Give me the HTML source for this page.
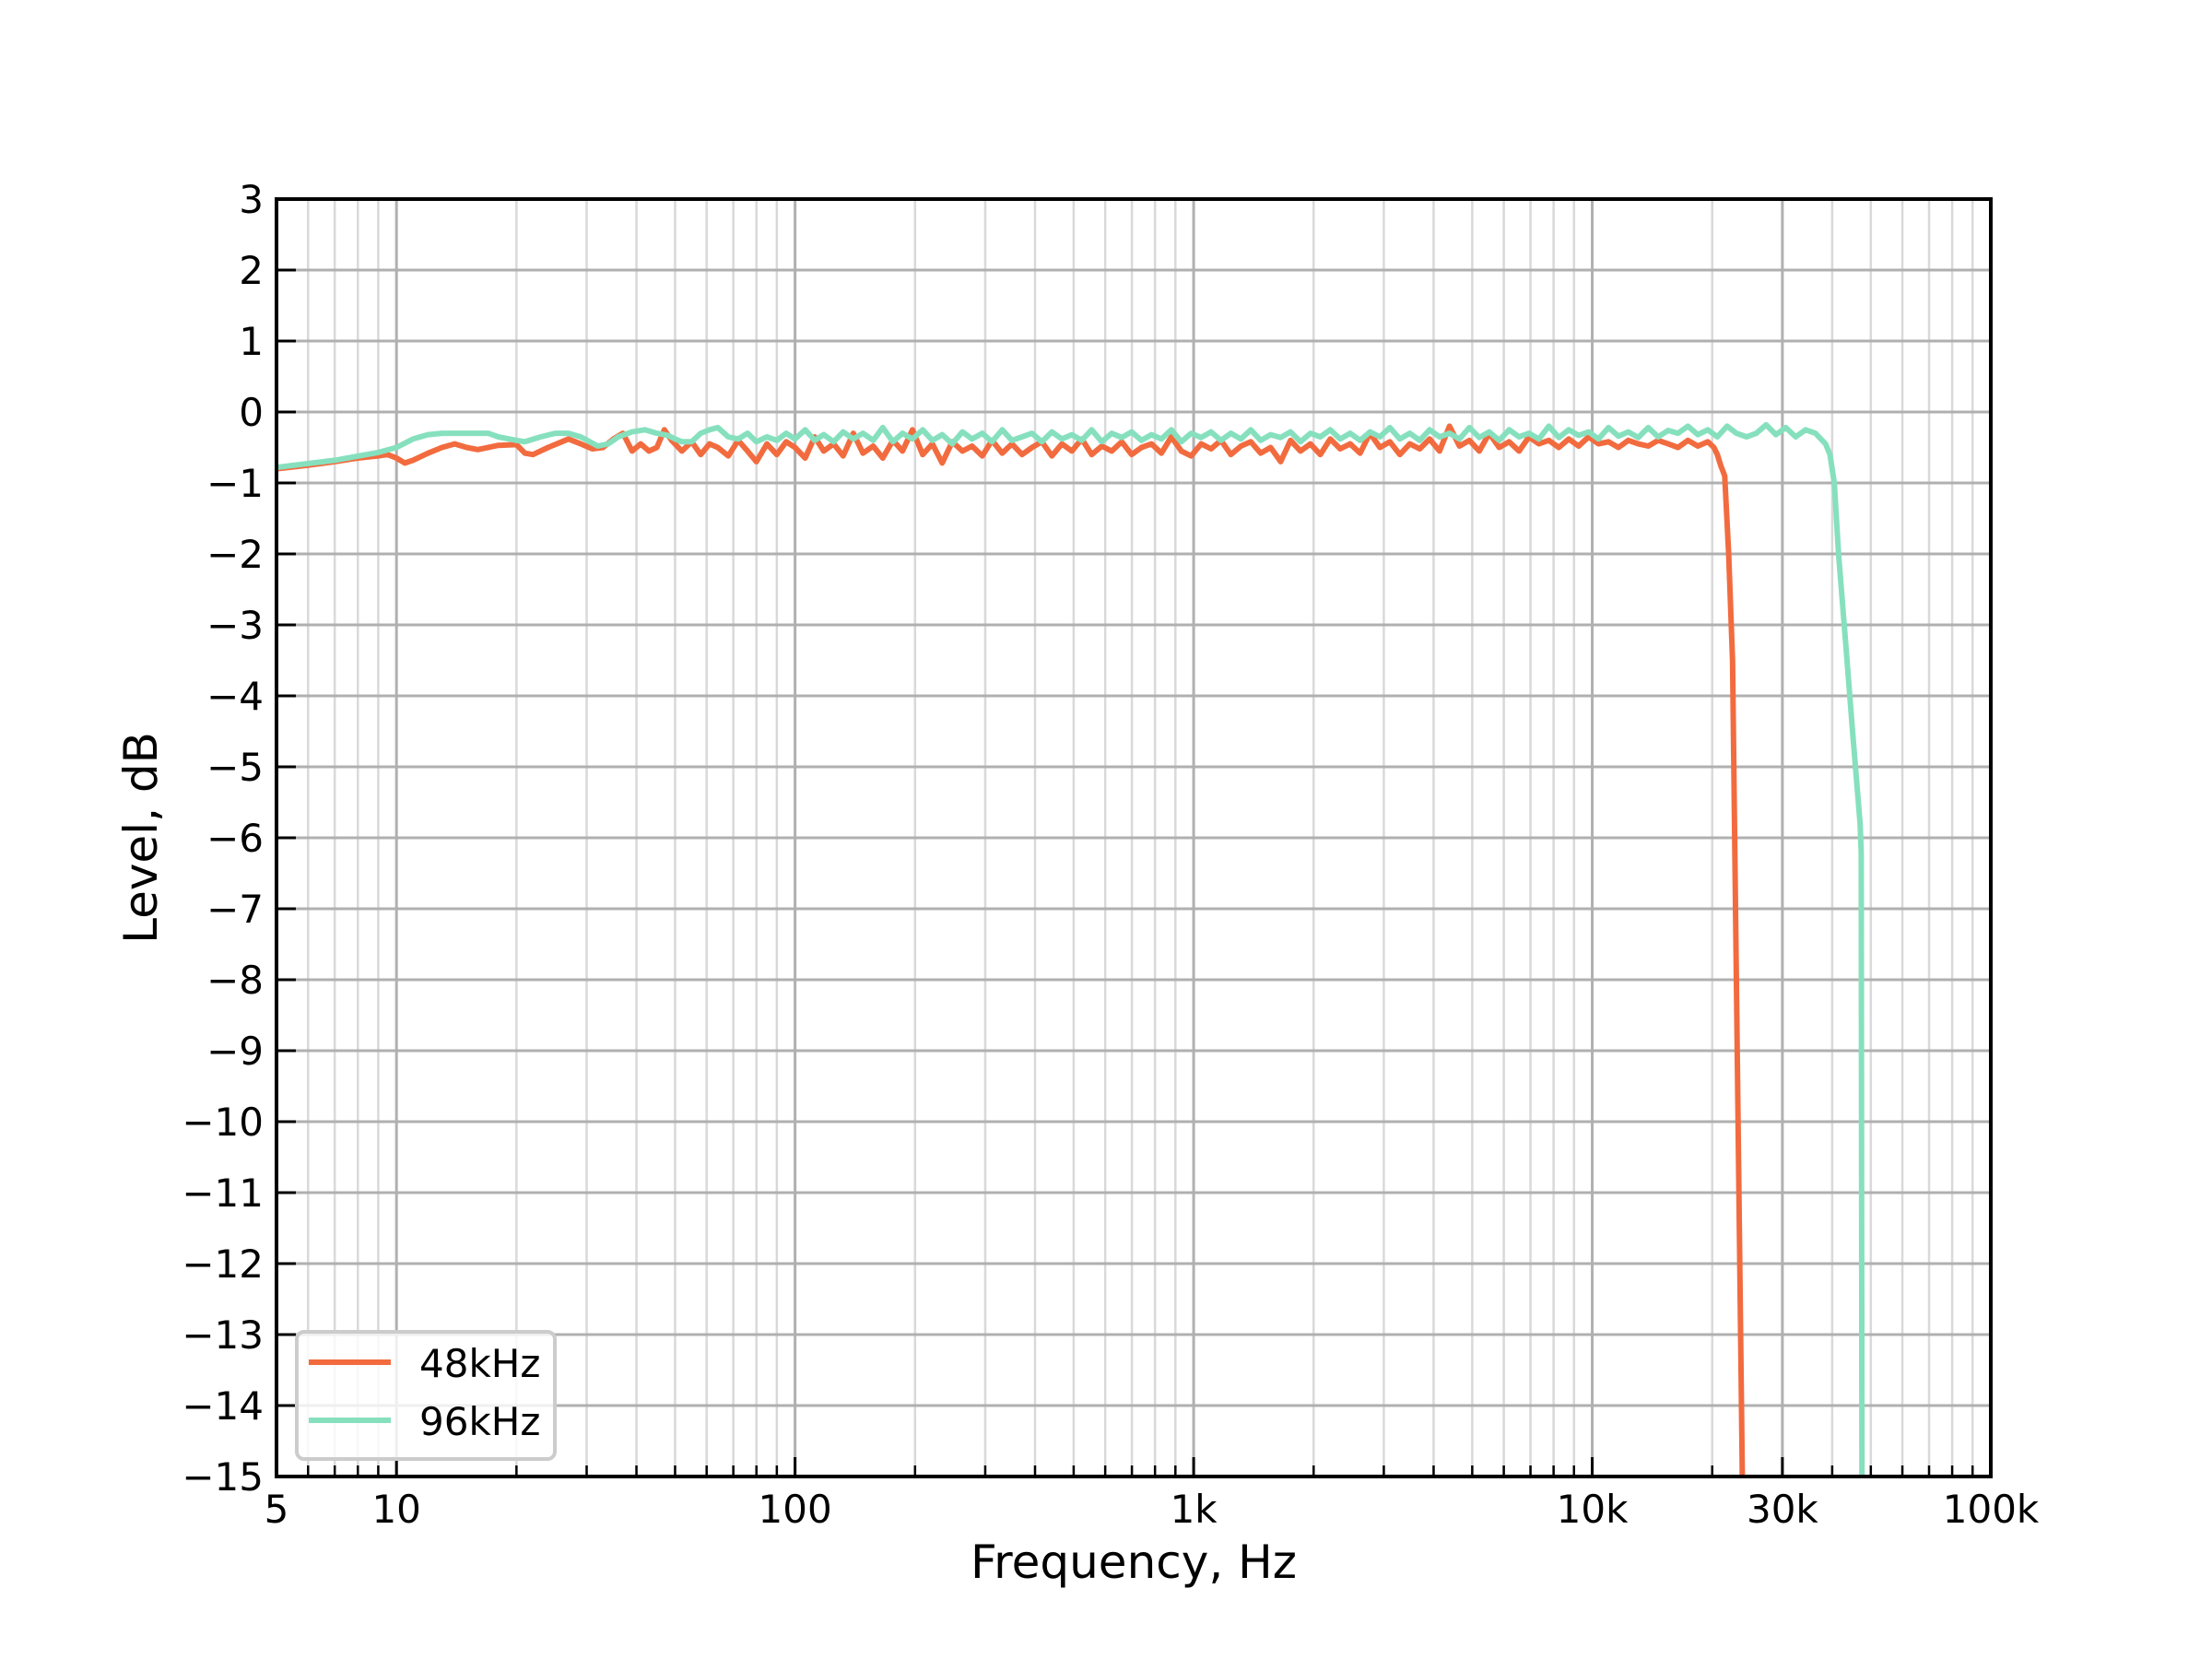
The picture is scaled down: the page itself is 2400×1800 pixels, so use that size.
<!DOCTYPE html>
<html><head><meta charset="utf-8"><style>
html,body{margin:0;padding:0;background:#fff;}
svg{display:block;font-family:"DejaVu Sans","Liberation Sans",sans-serif;}
</style></head><body>
<svg id="chart" width="2400" height="1800" viewBox="0 0 2400 1800" xmlns="http://www.w3.org/2000/svg">
<rect width="2400" height="1800" fill="#fff"/>
<g id="grid"></g>
<g id="series" clip-path="url(#clip)"></g>
<defs><clipPath id="clip"><rect x="300" y="216" width="1860" height="1386"/></clipPath></defs>
<g id="axes"></g>
<text x="1230" y="1712" font-size="50" text-anchor="middle">Frequency, Hz</text>
<text transform="translate(170,909) rotate(-90)" font-size="50" text-anchor="middle">Level, dB</text>
<g>
<rect x="322" y="1445" width="280" height="138" rx="8" fill="#fff" fill-opacity="0.8" stroke="#cccccc" stroke-width="4"/>
<line x1="335" y1="1478" x2="424" y2="1478" stroke="#f26b3f" stroke-width="6"/>
<text x="455" y="1494" font-size="42">48kHz</text>
<line x1="335" y1="1541" x2="424" y2="1541" stroke="#86e0be" stroke-width="6"/>
<text x="455" y="1557" font-size="42">96kHz</text>
</g>
</svg>
<script>
const yTicks=[3,2,1,0,-1,-2,-3,-4,-5,-6,-7,-8,-9,-10,-11,-12,-13,-14,-15];
const xTickVals=[5,10,100,1000,10000,30000,100000];
const xTickLabels=["5","10","100","1k","10k","30k","100k"];
const flatF=[52,55,58,61,64,68,72,76,80,85,
90,95,100,106,112,118,125,132,140,148,
157,166,176,186,197,209,221,234,248,263,
278,295,312,331,350,371,393,416,441,467,
495,524,555,588,623,660,699,740,784,830,
879,931,986,1044,1106,1171,1240,1314,1391,1473,
1560,1653,1750,1854,1963,2079,2202,2332,2470,2616,
2770,2934,3107,3291,3485,3691,3909,4140,4385,4644,
4918,5208,5516,5842,6187,6553,6940,7350,7784,8244,
8731,9247,9793,10371,10984,11633,12320,13048,13819,14635,
15500,16415,17385,18412,19500];
const lowF48=[5,6,7,8,9,9.5,10,10.5,11,12,13,14,15,16,18,20,21,22,24,26,27,29,31,33,35,37,39,41,43,45,47,49];
const lowV48=[-0.8,-0.75,-0.7,-0.65,-0.62,-0.6,-0.65,-0.72,-0.68,-0.58,
-0.5,-0.45,-0.5,-0.53,-0.47,-0.46,-0.58,-0.6,-0.5,-0.42,
-0.38,-0.45,-0.52,-0.5,-0.38,-0.3,-0.55,-0.45,-0.55,-0.5,
-0.25,-0.4];
const flatV48=[-0.55,-0.42,-0.6,-0.45,-0.5,-0.62,-0.4,-0.55,-0.7,-0.45,
-0.6,-0.42,-0.5,-0.65,-0.35,-0.55,-0.45,-0.62,-0.3,-0.58,
-0.48,-0.65,-0.4,-0.55,-0.25,-0.6,-0.45,-0.72,-0.42,-0.55,
-0.48,-0.62,-0.4,-0.58,-0.45,-0.6,-0.5,-0.42,-0.62,-0.45,
-0.55,-0.38,-0.6,-0.48,-0.55,-0.42,-0.6,-0.5,-0.45,-0.58,
-0.35,-0.55,-0.62,-0.45,-0.52,-0.4,-0.6,-0.48,-0.42,-0.58,
-0.5,-0.7,-0.4,-0.55,-0.45,-0.6,-0.38,-0.52,-0.45,-0.58,
-0.3,-0.5,-0.42,-0.6,-0.45,-0.52,-0.38,-0.55,-0.2,-0.48,
-0.4,-0.55,-0.3,-0.5,-0.42,-0.55,-0.35,-0.45,-0.4,-0.5,
-0.38,-0.48,-0.35,-0.45,-0.42,-0.5,-0.4,-0.45,-0.48,-0.4,
-0.45,-0.5,-0.4,-0.48,-0.42];
const tailF48=[20200,20600,21000,21500,22000,22500,23800];
const tailV48=[-0.5,-0.6,-0.75,-0.9,-2,-3.5,-15];
const lowF96=[5,7,9,10,11,12,13,15,17,18,20,21,23,25,27,29,32,34,36,39,42,45,48,50];
const lowV96=[-0.78,-0.68,-0.57,-0.5,-0.38,-0.32,-0.3,-0.3,-0.3,-0.35,
-0.4,-0.42,-0.35,-0.3,-0.3,-0.35,-0.48,-0.45,-0.35,-0.28,
-0.25,-0.3,-0.33,-0.38];
const flatV96=[-0.42,-0.42,-0.3,-0.25,-0.22,-0.35,-0.38,-0.3,-0.42,-0.35,
-0.4,-0.3,-0.38,-0.25,-0.4,-0.32,-0.42,-0.28,-0.38,-0.3,
-0.4,-0.22,-0.42,-0.3,-0.38,-0.25,-0.4,-0.32,-0.45,-0.28,
-0.38,-0.3,-0.42,-0.25,-0.4,-0.35,-0.3,-0.42,-0.28,-0.38,
-0.32,-0.4,-0.25,-0.42,-0.3,-0.36,-0.28,-0.4,-0.32,-0.38,
-0.25,-0.42,-0.3,-0.36,-0.28,-0.4,-0.3,-0.38,-0.25,-0.4,
-0.32,-0.36,-0.28,-0.42,-0.3,-0.35,-0.25,-0.38,-0.3,-0.4,
-0.28,-0.35,-0.22,-0.38,-0.3,-0.4,-0.25,-0.35,-0.3,-0.38,
-0.22,-0.36,-0.28,-0.4,-0.25,-0.35,-0.3,-0.38,-0.2,-0.36,
-0.25,-0.33,-0.28,-0.38,-0.22,-0.34,-0.28,-0.36,-0.22,-0.35,
-0.26,-0.3,-0.2,-0.32,-0.25];
const tailF96=[20600,21800,23000,24400,25800,27300,28900,30600,32400,34300,36300,38500,39500,40500,41500,43300,45000,47000,47300,47500];
const tailV96=[-0.35,-0.2,-0.3,-0.35,-0.3,-0.18,-0.32,-0.22,-0.35,-0.25,-0.3,-0.45,-0.6,-1.0,-2,-3.3,-4.5,-5.8,-6.2,-15];
const freq48=lowF48.concat(flatF,tailF48), level48=lowV48.concat(flatV48,tailV48);
const freq96=lowF96.concat(flatF,tailF96), level96=lowV96.concat(flatV96,tailV96);
const NS="http://www.w3.org/2000/svg";
const L=300,R=2160,T=216,B=1602,DEC=(R-L)/Math.log10(100000/5);
function xs(f){return L+DEC*Math.log10(f/5);}
function ys(v){return T+(3-v)*(B-T)/18;}
function mk(tag,attrs,parent){const e=document.createElementNS(NS,tag);for(const k in attrs)e.setAttribute(k,attrs[k]);parent.appendChild(e);return e;}
const grid=document.getElementById('grid'),axes=document.getElementById('axes'),ser=document.getElementById('series');
for(let d=1;d<=100000;d*=10){for(let m=1;m<10;m++){const f=m*d;if(f<5||f>100000)continue;
 const major=(m===1)||f===30000;const x=xs(f);
 const g=mk('line',{x1:x,y1:T,x2:x,y2:B,stroke:major?'#b0b0b0':'#d9d9d9','stroke-width':major?3:2.5},grid);
 
 
 const t=mk('line',{x1:x,y1:B,x2:x,y2:B-(major?21:12),stroke:'#000','stroke-width':major?3:2.5},axes);
 
 
}}
yTicks.forEach(v=>{const y=ys(v);
 const g=mk('line',{x1:L,y1:y,x2:R,y2:y,stroke:'#b0b0b0','stroke-width':3},grid);
 
 
 const t=mk('line',{x1:L,y1:y,x2:L+21,y2:y,stroke:'#000','stroke-width':3},axes);
 
 
 const lb=mk('text',{x:L-14,y:y+15,'font-size':42,'text-anchor':'end'},axes);
 lb.textContent=v<0?'\u2212'+(-v):String(v);
 
 
});
xTickVals.forEach((f,i)=>{const lb=mk('text',{x:xs(f),y:1652,'font-size':42,'text-anchor':'middle'},axes);
 lb.textContent=xTickLabels[i];
 
 
});
const sp=mk('rect',{x:L,y:T,width:R-L,height:B-T,fill:'none',stroke:'#000','stroke-width':4},axes);


function draw(fs,vs,color,name){const pts=fs.map((f,i)=>xs(f).toFixed(1)+','+ys(vs[i]).toFixed(1)).join(' ');
 const p=mk('polyline',{points:pts,fill:'none',stroke:color,'stroke-width':6,'stroke-linejoin':'round'},ser);
 
 
}
draw(freq48,level48,'#f26b3f','series-48khz');
draw(freq96,level96,'#86e0be','series-96khz');
</script>
</body></html>
